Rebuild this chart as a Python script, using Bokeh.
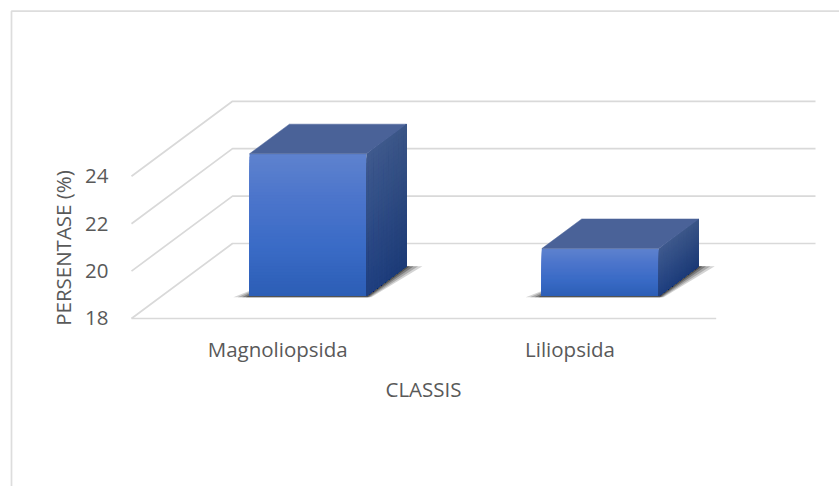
from bokeh.plotting import figure
from bokeh.models import FixedTicker, Range1d
from bokeh.embed import file_html
from bokeh.resources import INLINE

# ---- data
categories = ["Magnoliopsida", "Liliopsida"]
values = [24, 20]
y_ticks = [18, 20, 22, 24]
x_title = "CLASSIS"
y_title = "PERSENTASE (%)"

# ---- layout / projection constants
W, H = 839, 486
BORDER_L, BORDER_T = 7, 9
X0, X1 = -0.42415, 2.42176   # x range: category units
Y0, Y1 = 10.911, 31.038      # y range: value units
DEPTH_X, DEPTH_Y = 0.3455, 3.165   # oblique offset of the full chart depth
BAR_W = 0.40
D_FRONT, D_BACK = 0.30, 0.695
FLOOR = y_ticks[0]
WALL_END = 2.3397
FRONT_END = 2.0
FRAME_X, FRAME_Y = -0.41047, 30.966
GRID = "#D9D9D9"
TEXT = "#595959"
FONT = "Open Sans"
FS = "20.5px"


def lerp(a, b, t):
    return a + (b - a) * t


def hexmix(stops, t):
    n = len(stops) - 1
    i = min(int(t * n), n - 1)
    f = t * n - i
    a, b = stops[i], stops[i + 1]
    c = [int(round(lerp(int(a[k:k + 2], 16), int(b[k:k + 2], 16), f))) for k in (1, 3, 5)]
    return "#%02x%02x%02x" % tuple(c)


def proj(x, y, d):
    return x + d * DEPTH_X, y + d * DEPTH_Y


p = figure(width=W, height=H, x_range=Range1d(X0, X1), y_range=Range1d(Y0, Y1),
           output_backend="svg", toolbar_location=None, min_border=0,
           min_border_left=BORDER_L, min_border_top=BORDER_T,
           outline_line_color=None, background_fill_color="white",
           border_fill_color="white")
p.xgrid.visible = False
p.ygrid.visible = False

# chart frame (left and top edges)
p.line([FRAME_X, FRAME_X, X1], [Y0, FRAME_Y, FRAME_Y], line_color="#DDDDDD", line_width=1.7)

# walls
xs, ys = [], []
for t in y_ticks:
    bx, by = proj(0, t, 1)
    xs.append([0, bx, WALL_END])
    ys.append([t, by, by])
xs.append([0, FRONT_END])
ys.append([FLOOR, FLOOR])
p.multi_line(xs, ys, line_color=GRID, line_width=1.7)

FRONT = ["#5E82CE", "#4A74CB", "#3A6BC6", "#2C5EB6"]
SIDE_A = ["#3F5A8E", "#1F3F80"]
SIDE_B = ["#3A5586", "#1C3A76"]

for i, v in enumerate(values):
    c = i + 0.5
    L, R = c - BAR_W / 2, c + BAR_W / 2

    # shadow on the floor, soft layers
    for g, alpha in ((0.055, 0.20), (0.040, 0.25), (0.025, 0.35), (0.012, 0.5)):
        ax, ay = proj(L - g, FLOOR - 0.05, D_FRONT)
        bx, by = proj(R + g * 0.3, FLOOR - 0.05, D_FRONT)
        cx, cy = proj(R + g, FLOOR, D_BACK)
        dx, dy = proj(R, FLOOR, D_BACK)
        ex, ey = proj(L, FLOOR - 0.05, D_FRONT + 0.18)
        p.patch([ax, bx, cx, dx, ex], [ay, by, cy, dy, ey],
                fill_color="#2a2a2a", fill_alpha=alpha, line_color=None)

    # front face: overlapping strips, each reaching down to the floor
    n = 48
    fx, fy = proj(L, FLOOR, D_FRONT)
    gx, _ = proj(R, FLOOR, D_FRONT)
    _, ty = proj(L, v, D_FRONT)
    tops = [lerp(ty, fy, k / n) for k in range(n)]
    cols = [hexmix(FRONT, k / (n - 1)) for k in range(n)]
    p.quad(left=[fx] * n, right=[gx] * n, top=tops, bottom=[fy] * n,
           fill_color=cols, line_color=None)

    # right face: overlapping cells, each reaching to the far lower corner
    nu, nv = 16, 30
    pxs, pys, pcs = [], [], []
    for a in range(nu):
        for b in range(nv):
            d0 = lerp(D_FRONT, D_BACK, a / nu)
            y0 = lerp(v, FLOOR, b / nv)
            P = [proj(R, y0, d0), proj(R, y0, D_BACK), proj(R, FLOOR, D_BACK), proj(R, FLOOR, d0)]
            pxs.append([q[0] for q in P])
            pys.append([q[1] for q in P])
            tu, tv = a / (nu - 1), b / (nv - 1)
            ca = hexmix(SIDE_A, tv)
            cb = hexmix(SIDE_B, tv)
            pcs.append(hexmix([ca, cb], tu))
    p.patches(pxs, pys, fill_color=pcs, line_color=None)

    # top face
    P = [proj(L, v, D_FRONT), proj(R, v, D_FRONT), proj(R, v, D_BACK), proj(L, v, D_BACK)]
    p.patch([q[0] for q in P], [q[1] for q in P], fill_color="#4A6298",
            line_color="#4A6298", line_width=0.5)

# axes sit on the chart's front edges
p.yaxis.fixed_location = 0
p.yaxis.ticker = FixedTicker(ticks=y_ticks)
p.yaxis.axis_line_color = None
p.yaxis.major_tick_line_color = None
p.yaxis.minor_tick_line_color = None
p.yaxis.major_label_standoff = 17
p.yaxis.major_label_text_font = FONT
p.yaxis.major_label_text_font_size = FS
p.yaxis.major_label_text_color = TEXT
p.yaxis.axis_label = y_title
p.yaxis.axis_label_text_font = FONT
p.yaxis.axis_label_text_font_style = "normal"
p.yaxis.axis_label_text_font_size = FS
p.yaxis.axis_label_text_color = TEXT
p.yaxis.axis_label_standoff = 5

p.xaxis.fixed_location = FLOOR
p.xaxis.ticker = FixedTicker(ticks=[i + 0.5 for i in range(len(categories))])
p.xaxis.major_label_overrides = {i + 0.5: c for i, c in enumerate(categories)}
p.xaxis.axis_line_color = None
p.xaxis.major_tick_line_color = None
p.xaxis.minor_tick_line_color = None
p.xaxis.major_label_standoff = 11
p.xaxis.major_label_text_font = FONT
p.xaxis.major_label_text_font_size = FS
p.xaxis.major_label_text_color = TEXT
p.xaxis.axis_label = x_title
p.xaxis.axis_label_text_font = FONT
p.xaxis.axis_label_text_font_style = "normal"
p.xaxis.axis_label_text_font_size = FS
p.xaxis.axis_label_text_color = TEXT
p.xaxis.axis_label_standoff = 8

open("out.html", "w").write(file_html(p, INLINE))
